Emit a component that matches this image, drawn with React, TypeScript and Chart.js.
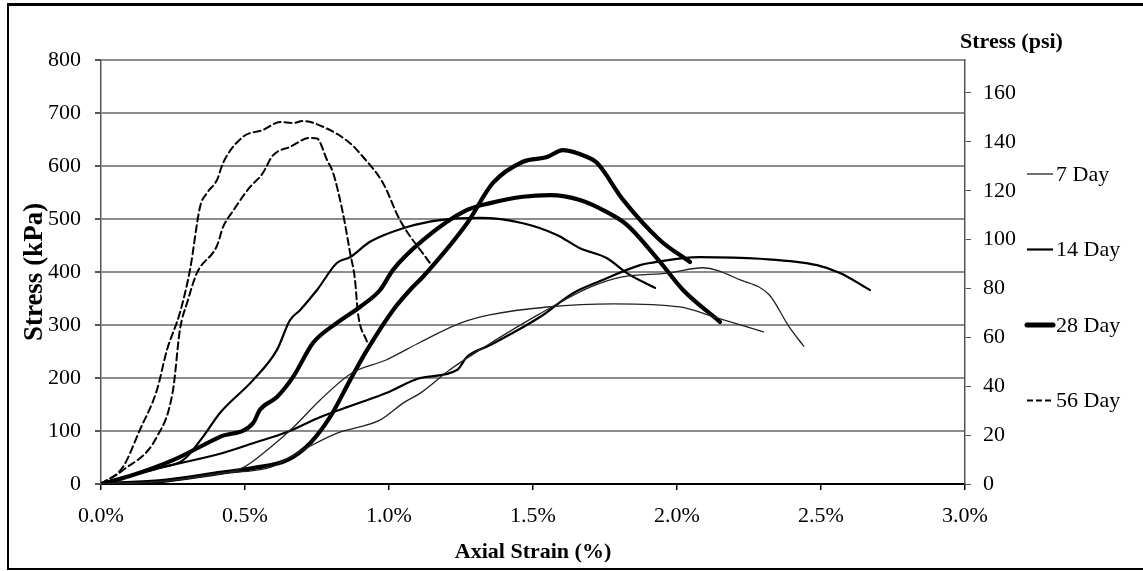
import React, { useEffect, useRef } from 'react';
import { Chart, registerables } from 'chart.js';

Chart.register(...registerables);

// ---- Data (strain in %, stress in kPa) ----
const day7aStrain = [0, 0.2, 0.35, 0.49, 0.59, 0.67, 0.76, 0.87, 0.99, 1.11, 1.25, 1.35, 1.55, 1.78, 2.01, 2.13, 2.3];
const day7aStress = [0, 5, 14, 30, 70, 108, 158, 209, 234, 268, 304, 319, 334, 340, 334, 315, 287];

const day7bStrain = [0, 0.2, 0.41, 0.59, 0.7, 0.82, 0.97, 1.05, 1.11, 1.21, 1.33, 1.52, 1.7, 1.81, 1.97, 2.09, 2.22, 2.32, 2.39, 2.44];
const day7bStress = [0, 4, 20, 32, 64, 96, 121, 153, 172, 215, 258, 320, 372, 391, 398, 408, 385, 357, 296, 260];

const day14aStrain = [0, 0.1, 0.2, 0.285, 0.354, 0.413, 0.528, 0.611, 0.656, 0.691, 0.75, 0.819, 0.865, 0.934, 1.063, 1.177, 1.316, 1.465, 1.583, 1.663, 1.757, 1.826, 1.924];
const day14aStress = [0, 15, 30, 45, 89, 134, 196, 253, 309, 328, 366, 417, 428, 457, 485, 498, 502, 492, 470, 445, 426, 398, 370];

const day14bStrain = [0, 0.2, 0.42, 0.528, 0.646, 0.76, 0.875, 0.993, 1.108, 1.236, 1.271, 1.351, 1.524, 1.639, 1.733, 1.872, 1.906, 2.08, 2.288, 2.486, 2.566, 2.67];
const day14bStress = [0, 30, 58, 77, 98, 126, 149, 172, 200, 215, 240, 262, 315, 360, 383, 413, 417, 428, 425, 413, 398, 366];

const day28aStrain = [0, 0.1, 0.25, 0.413, 0.528, 0.552, 0.611, 0.667, 0.736, 0.819, 0.899, 0.969, 1.014, 1.118, 1.271, 1.351, 1.465, 1.559, 1.663, 1.757, 1.826, 1.941, 2.021, 2.149];
const day28aStress = [0, 15, 45, 89, 115, 140, 164, 202, 266, 304, 334, 366, 404, 460, 517, 530, 542, 545, 536, 513, 489, 419, 366, 306];

const day28bStrain = [0, 0.2, 0.413, 0.528, 0.646, 0.726, 0.795, 0.865, 0.924, 1.014, 1.073, 1.118, 1.271, 1.361, 1.465, 1.549, 1.604, 1.688, 1.722, 1.813, 1.941, 2.045];
const day28bStress = [0, 5, 21, 30, 45, 77, 126, 196, 253, 328, 366, 391, 492, 568, 608, 617, 630, 617, 606, 536, 460, 419];

const day56aStrain = [0, 0.076, 0.135, 0.194, 0.229, 0.274, 0.309, 0.344, 0.368, 0.403, 0.424, 0.493, 0.563, 0.622, 0.667, 0.701, 0.771, 0.865, 0.91, 0.979, 1.038, 1.142];
const day56aStress = [0, 32, 102, 177, 253, 323, 404, 523, 549, 574, 606, 655, 668, 683, 681, 685, 674, 643, 617, 568, 498, 417];

const day56bStrain = [0, 0.076, 0.194, 0.25, 0.274, 0.299, 0.333, 0.403, 0.424, 0.458, 0.517, 0.56, 0.597, 0.656, 0.726, 0.75, 0.785, 0.806, 0.84, 0.865, 0.882, 0.892, 0.924];
const day56bStress = [0, 26, 89, 177, 291, 342, 398, 450, 485, 515, 560, 585, 620, 636, 653, 652, 611, 587, 511, 436, 385, 323, 268];

const legendLabels = ['7 Day', '14 Day', '28 Day', '56 Day'];
const xTickLabels = ['0.0%', '0.5%', '1.0%', '1.5%', '2.0%', '2.5%', '3.0%'];

const FONT = '"Liberation Serif", "Times New Roman", serif';

const styles: Record<string, { color: string; width: number; dash: number[]; legendDash: number[] }> = {
  '7 Day': { color: '#222', width: 1.3, dash: [], legendDash: [] },
  '14 Day': { color: '#000', width: 2.2, dash: [], legendDash: [] },
  '28 Day': { color: '#000', width: 4.2, dash: [], legendDash: [] },
  '56 Day': { color: '#000', width: 2, dash: [7, 4], legendDash: [6, 3] },
};

const zip = (xs: number[], ys: number[]) => xs.map((x, i) => ({ x, y: ys[i] }));

const series: { group: string; xs: number[]; ys: number[] }[] = [
  { group: '7 Day', xs: day7aStrain, ys: day7aStress },
  { group: '7 Day', xs: day7bStrain, ys: day7bStress },
  { group: '14 Day', xs: day14aStrain, ys: day14aStress },
  { group: '14 Day', xs: day14bStrain, ys: day14bStress },
  { group: '28 Day', xs: day28aStrain, ys: day28aStress },
  { group: '28 Day', xs: day28bStrain, ys: day28bStress },
  { group: '56 Day', xs: day56aStrain, ys: day56aStress },
  { group: '56 Day', xs: day56bStrain, ys: day56bStress },
];

const sideLegend = {
  id: 'sideLegend',
  afterDraw(chart: any) {
    const { ctx, chartArea } = chart;
    ctx.save();
    const x0 = chartArea.right + 62;
    const x1 = x0 + 26;
    legendLabels.forEach((label, i) => {
      const st = styles[label];
      const y = chartArea.top + 114 + i * 75.5;
      ctx.beginPath();
      ctx.strokeStyle = st.color;
      ctx.lineWidth = label === '28 Day' ? 5 : st.width;
      ctx.lineCap = label === '28 Day' ? 'round' : 'butt';
      ctx.setLineDash(st.legendDash);
      ctx.moveTo(x0, y);
      ctx.lineTo(x1, y);
      ctx.stroke();
      ctx.setLineDash([]);
      ctx.fillStyle = '#000';
      ctx.font = `22px ${FONT}`;
      ctx.textAlign = 'left';
      ctx.textBaseline = 'middle';
      ctx.fillText(label, x1 + 3, y + 1);
    });
    // right axis title
    ctx.font = `bold 22px ${FONT}`;
    ctx.fillStyle = '#000';
    ctx.textAlign = 'left';
    ctx.textBaseline = 'middle';
    ctx.fillText('Stress (psi)', chartArea.right - 5, chartArea.top - 18);
    ctx.restore();
  },
};

export default function App() {
  const ref = useRef<HTMLCanvasElement>(null);
  useEffect(() => {
    Chart.defaults.font.family = FONT;
    Chart.defaults.color = '#000';
    const chart = new Chart(ref.current!, {
      type: 'scatter',
      data: {
        datasets: series.map((s, i) => ({
          label: s.group + (i % 2 === 0 ? '' : ' '),
          data: zip(s.xs, s.ys),
          showLine: true,
          fill: false,
          pointRadius: 0,
          pointHoverRadius: 0,
          borderColor: styles[s.group].color,
          borderWidth: styles[s.group].width,
          borderDash: styles[s.group].dash,
          borderCapStyle: 'round',
          borderJoinStyle: 'round',
          cubicInterpolationMode: 'monotone',
          yAxisID: 'y',
        })) as any,
      },
      options: {
        responsive: false,
        devicePixelRatio: 1,
        animation: false,
        layout: { padding: { top: 60, left: 0, right: 0, bottom: 0 } },
        plugins: { legend: { display: false }, tooltip: { enabled: false } },
        scales: {
          x: {
            type: 'linear',
            min: 0,
            max: 3,
            ticks: {
              stepSize: 0.5,
              padding: 13,
              font: { size: 22 },
              color: '#000',
              callback: (v: any, i: number) => xTickLabels[i] ?? '',
            },
            grid: { drawOnChartArea: false, drawTicks: true, tickLength: 6, tickColor: '#000', lineWidth: 1.5 },
            border: { color: '#000', width: 2 },
            title: {
              display: true,
              text: 'Axial Strain (%)',
              font: { size: 22, weight: 'bold' },
              color: '#000',
              padding: { top: 0, bottom: 5 },
            },
            afterFit: (s: any) => { s.height = 87; },
          },
          y: {
            type: 'linear',
            position: 'left',
            min: 0,
            max: 800,
            ticks: { stepSize: 100, padding: 14, font: { size: 22 }, color: '#000' },
            grid: { color: '#8c8c8c', lineWidth: 2, drawTicks: true, tickLength: 6, tickColor: '#555' },
            border: { color: '#555', width: 1.5 },
            title: {
              display: true,
              text: 'Stress (kPa)',
              font: { size: 27, weight: 'bold' },
              color: '#000',
              padding: { top: 19, bottom: 0 },
            },
            afterFit: (s: any) => { s.width = 101; },
          },
          y2: {
            type: 'linear',
            position: 'right',
            min: 0,
            max: 173.5,
            ticks: { stepSize: 20, includeBounds: false, padding: 12, font: { size: 22 }, color: '#000' },
            grid: { drawOnChartArea: false, drawTicks: true, tickLength: 6, tickColor: '#555' },
            border: { color: '#555', width: 1.5 },
            afterFit: (s: any) => { s.width = 178; },
          },
        },
      } as any,
      plugins: [sideLegend],
    });
    return () => chart.destroy();
  }, []);

  return (
    <div style={{ position: 'fixed', left: 0, top: 0, width: 1143, height: 571, background: '#fff', overflow: 'hidden' }}>
      <div
        style={{
          position: 'absolute',
          left: 7,
          top: 3,
          width: 1150,
          height: 562,
          borderLeft: '2px solid #000',
          borderTop: '3px solid #000',
          borderBottom: '2px solid #000',
        }}
      />
      <canvas ref={ref} width={1143} height={571} style={{ position: 'absolute', left: 0, top: 0, width: 1143, height: 571 }} />
    </div>
  );
}
